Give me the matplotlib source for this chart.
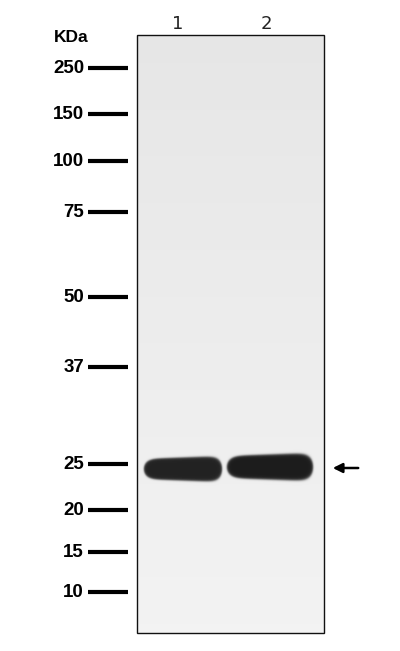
import numpy as np
import matplotlib
matplotlib.use("Agg")
import matplotlib.pyplot as plt

# ladder (kDa) and where each marker ran on the membrane (px from top)
marker_kda = ["250", "150", "100", "75", "50", "37", "25", "20", "15", "10"]
marker_run = [68, 114, 161, 212, 297, 367, 464, 510, 552, 592]

lanes = ["1", "2"]
lane_center = [183, 270]
lane_halfwidth = [39, 43]
band_run = [469, 467]
band_halfheight = [11.5, 12.5]
band_strength = [0.97, 1.0]

W, H = 400, 651
panel = (137, 324, 35, 633)  # left, right, top, bottom


def gel_image():
    x0, x1, y0, y1 = panel
    xs = np.arange(x0, x1) + 0.5
    ys = np.arange(y0, y1) + 0.5
    X, Y = np.meshgrid(xs, ys)
    # background gets a little lighter towards the bottom
    bg = 0.90 + 0.05 * (Y - y0) / (y1 - y0)
    dark = np.zeros_like(X)
    for cx, hw, cy, hh, s in zip(lane_center, lane_halfwidth, band_run,
                                 band_halfheight, band_strength):
        # slightly taller at the right end of the band
        hh_x = hh * (1 + 0.12 * (X - cx) / hw)
        r = np.abs((X - cx) / hw) ** 8 + np.abs((Y - cy) / hh_x) ** 2
        d = s / (1 + np.exp((r - 1) * 9))
        dark = np.maximum(dark, d)
    img = bg * (1 - dark) + 0.11 * dark
    return img


fig = plt.figure(figsize=(W / 100, H / 100), dpi=100)
ax = fig.add_axes([0, 0, 1, 1])
ax.set_xlim(0, W)
ax.set_ylim(H, 0)
ax.axis("off")

x0, x1, y0, y1 = panel
ax.imshow(gel_image(), cmap="gray", vmin=0, vmax=1,
          extent=(x0, x1, y1, y0), interpolation="bilinear", zorder=1)
ax.add_patch(plt.Rectangle((x0, y0), x1 - x0, y1 - y0, fill=False,
                           ec="#111111", lw=1.0, zorder=3))

font = "Liberation Sans"
for lab, y in zip(marker_kda, marker_run):
    ax.plot([88, 128], [y, y], color="black", lw=3.0, solid_capstyle="butt")
    ax.text(84, y + 0.5, lab, ha="right", va="center", fontsize=13.5,
            fontweight="bold", family=font)

ax.text(54, 38, "KDa", ha="left", va="center", fontsize=12.5,
        fontweight="bold", family=font)

for lab, cx in zip(lanes, lane_center):
    ax.text(cx - 5 if lab == "1" else cx - 4, 24, lab, ha="center",
            va="center", fontsize=13, family="DejaVu Sans", color="#222222")

ax.annotate("", xy=(330, 468), xytext=(361, 468),
            arrowprops=dict(arrowstyle="-|>", color="black", lw=1.8,
                            mutation_scale=14))

fig.savefig("out.png", dpi=100)
